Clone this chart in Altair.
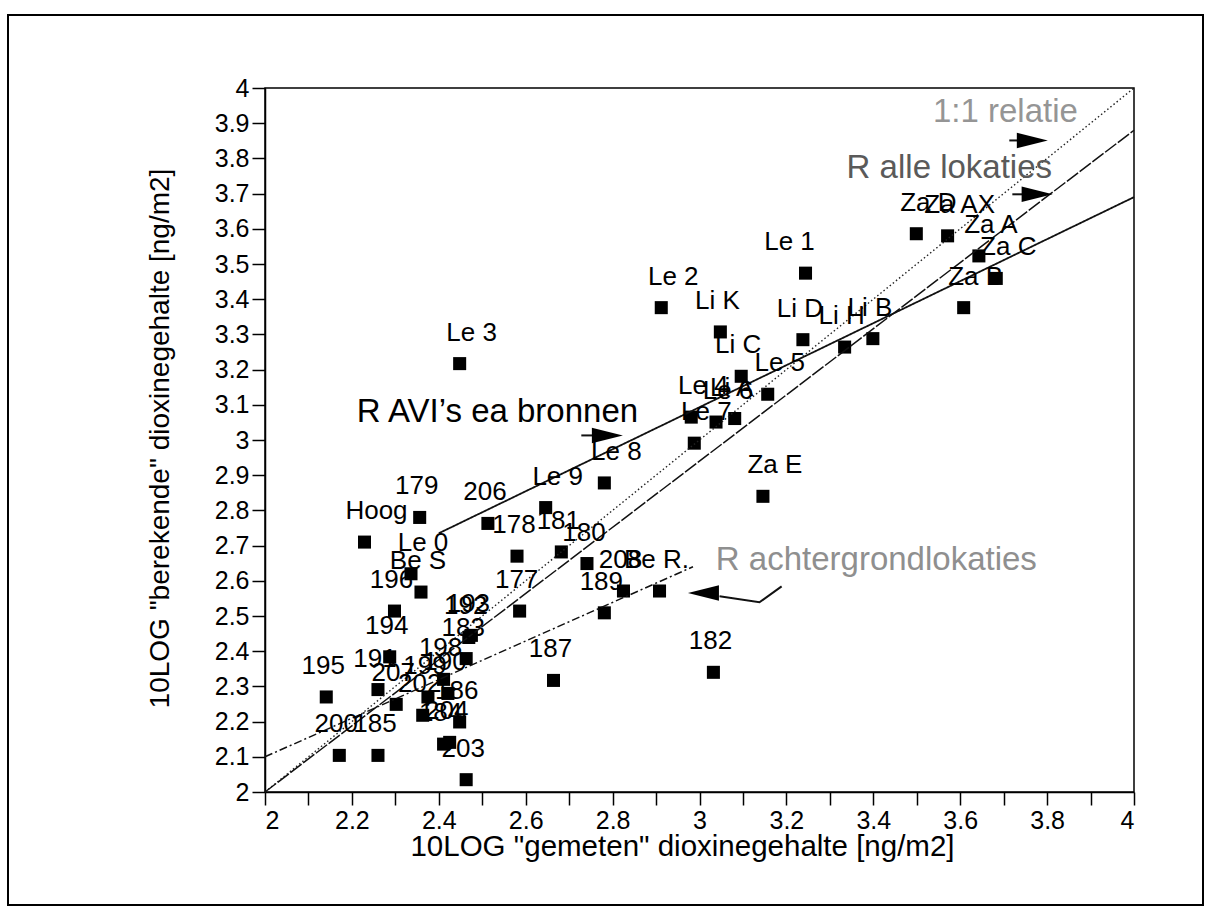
import altair as alt
import pandas as pd

# Sampling locations: measured vs. calculated dioxin content (10log, ng/m2)
names = [
    "Le 3", "Le 2", "Le 1", "Li K", "Li D", "Li H", "Li B", "Li C", "Le 5", "Le 4", "Le 6", "Li A", "Le 7",
    "Za D", "Za AX", "Za A", "Za C", "Za B", "Za E", "Le 8", "Le 9", "182", "187", "Be R.", "208",
    "189", "180", "181", "178", "177", "206", "179", "Hoog", "Le 0", "Be S", "196", "194", "191",
    "195", "200", "185", "207", "202", "186", "184", "204", "203", "192", "193", "183", "198", "199", "190",
]
measured = [
    2.448, 2.912, 3.244, 3.048, 3.238, 3.334, 3.399, 3.096, 3.157, 2.981, 3.038, 3.081, 2.988,
    3.499, 3.571, 3.643, 3.683, 3.608, 3.146, 2.781, 2.646, 3.032, 2.664, 2.908, 2.825,
    2.781, 2.741, 2.682, 2.580, 2.586, 2.513, 2.356, 2.229, 2.336, 2.359, 2.298, 2.287, 2.260,
    2.141, 2.171, 2.260, 2.302, 2.363, 2.448, 2.411, 2.425, 2.463, 2.469, 2.475, 2.463, 2.411, 2.375, 2.421,
]
calculated = [
    3.217, 3.376, 3.474, 3.307, 3.285, 3.264, 3.288, 3.181, 3.130, 3.065, 3.051, 3.061, 2.991,
    3.586, 3.580, 3.523, 3.459, 3.376, 2.840, 2.878, 2.808, 2.340, 2.317, 2.571, 2.571,
    2.509, 2.649, 2.682, 2.670, 2.514, 2.763, 2.780, 2.710, 2.620, 2.568, 2.514, 2.384, 2.291,
    2.270, 2.104, 2.104, 2.249, 2.218, 2.199, 2.136, 2.141, 2.035, 2.439, 2.445, 2.379, 2.320, 2.270, 2.280,
]
# Labels of these locations sit to the left of the default spot
left_labels = ["Le 1"]

# Reference and regression lines (endpoints in data units)
line_names = ["1:1", "1:1", "alle", "alle", "avi", "avi", "achter", "achter"]
line_x = [2.0, 4.0, 2.0, 4.0, 2.40, 4.0, 2.0, 2.985]
line_y = [2.0, 4.0, 2.0, 3.88, 2.735, 3.69, 2.10, 2.64]

# Annotation texts
note_text = ["1:1 relatie", "R alle lokaties", "R AVI\u2019s ea bronnen", "R achtergrondlokaties"]
note_x = [3.704, 3.575, 2.535, 3.407]
note_y = [3.931, 3.772, 3.080, 2.658]
note_color = ["#959595", "#5a5a5a", "#000000", "#8f8f8f"]

# Arrow stems (polylines) and arrow heads
stem_id = ["a1", "a1", "a2", "a2", "a3", "a3", "a4", "a4", "a4"]
stem_x = [3.713, 3.740, 3.720, 3.746, 2.728, 2.760, 3.046, 3.138, 3.189]
stem_y = [3.851, 3.851, 3.698, 3.698, 3.013, 3.013, 2.556, 2.539, 2.584]
head_x = [3.766, 3.777, 2.788]
head_y = [3.851, 3.698, 3.013]
lhead_x = [3.009]
lhead_y = [2.565]

FONT = "Liberation Sans"

pts = pd.DataFrame({"name": names, "x": measured, "y": calculated})
pts["side"] = "c"
pts.loc[pts["name"].str.startswith(("Le", "Za", "Hoog")), "side"] = "r"
pts.loc[pts["name"].isin(left_labels), "side"] = "l"
lines = pd.DataFrame({"line": line_names, "x": line_x, "y": line_y})
notes = pd.DataFrame({"text": note_text, "x": note_x, "y": note_y, "color": note_color})
stems = pd.DataFrame({"id": stem_id, "x": stem_x, "y": stem_y, "o": list(range(len(stem_x)))})
heads = pd.DataFrame({"x": head_x, "y": head_y})
lheads = pd.DataFrame({"x": lhead_x, "y": lhead_y})

ticks = [round(2 + i / 10, 1) for i in range(21)]

xs = alt.Scale(domain=[2, 4], nice=False, zero=False)
ys = alt.Scale(domain=[2, 4], nice=False, zero=False)

x_axis = alt.Axis(
    values=ticks, labelOverlap=False, tickCount=21,
    labelExpr="(round(datum.value * 10) % 2 == 0) ? format(datum.value, '~g') : ''",
    title='10LOG "gemeten" dioxinegehalte [ng/m2]',
    titleX=417, titleY=54, titleAnchor="middle", titleAlign="center",
    titleBaseline="middle", labelPadding=3,
    labelFont=FONT, labelFontSize=25, titleFont=FONT, titleFontSize=29.5,
)
y_axis = alt.Axis(
    values=ticks, format="~g", labelOverlap=False, tickCount=21,
    title='10LOG "berekende" dioxinegehalte [ng/m2]',
    titleX=-105, titleY=350, titleAngle=270, titleAlign="center",
    titleBaseline="middle", labelPadding=3,
    labelFont=FONT, labelFontSize=25, titleFont=FONT, titleFontSize=28,
)

# Every layer shares the same axis definition so nothing gets merged away
X = alt.X("x:Q", scale=xs, axis=x_axis)
Y = alt.Y("y:Q", scale=ys, axis=y_axis)


def line_layer(key, dash, width, color="#111111"):
    return alt.Chart(lines).transform_filter(alt.datum.line == key).mark_line(
        color=color, strokeWidth=width, strokeDash=dash
    ).encode(x=X, y=Y)


one_one = line_layer("1:1", [1.5, 2.5], 1.4, "#222222")
alle = line_layer("alle", [14, 2], 1.5)
avi = line_layer("avi", [1, 0], 1.8)
achter = line_layer("achter", [8, 3, 2, 3], 1.5)

squares = alt.Chart(pts).mark_square(size=170, color="black", opacity=1).encode(x=X, y=Y)


def label_layer(side, dx):
    return alt.Chart(pts).transform_filter(alt.datum.side == side).mark_text(
        dx=dx, dy=-31, fontSize=26, font=FONT, color="black", align="center", baseline="middle"
    ).encode(x=X, y=Y, text="name:N")


labels_r = label_layer("r", 12)
labels_c = label_layer("c", -3)
labels_l = label_layer("l", -16)

note_layer = alt.Chart(notes).mark_text(
    fontSize=33, font=FONT, align="center", baseline="middle"
).encode(x=X, y=Y, text="text:N", color=alt.Color("color:N", scale=None))

stem_layer = alt.Chart(stems).mark_line(color="#111111", strokeWidth=2).encode(
    x=X, y=Y, detail="id:N", order="o:Q"
)
head_layer = alt.Chart(heads).mark_point(
    shape="M-1,-0.5L1,0L-1,0.5Z", size=961, filled=True, color="black", opacity=1, strokeWidth=0
).encode(x=X, y=Y)
lhead_layer = alt.Chart(lheads).mark_point(
    shape="M1,-0.5L-1,0L1,0.5Z", size=961, filled=True, color="black", opacity=1, strokeWidth=0
).encode(x=X, y=Y)

frame = alt.Chart(pts).mark_rect(filled=False, stroke="black", strokeWidth=1.5).encode(
    x=alt.value(-257), x2=alt.value(938), y=alt.value(-73), y2=alt.value(817)
)

chart = alt.layer(
    squares, frame, one_one, alle, avi, achter, labels_r, labels_c, labels_l,
    note_layer, stem_layer, head_layer, lhead_layer,
).properties(
    width=869, height=704,
    autosize=alt.AutoSizeParams(type="none"),
    padding={"left": 265, "top": 88, "right": 71, "bottom": 126},
    background="white",
).configure_view(
    stroke="black", strokeWidth=1.5
).configure_axis(
    grid=False, domainColor="black", domainWidth=1.5, tickColor="black", tickWidth=1.5,
    tickSize=13, labelColor="black", titleFontWeight="normal", titleColor="black",
)

chart.save("out.html", embed_options={"renderer": "svg", "actions": False})
